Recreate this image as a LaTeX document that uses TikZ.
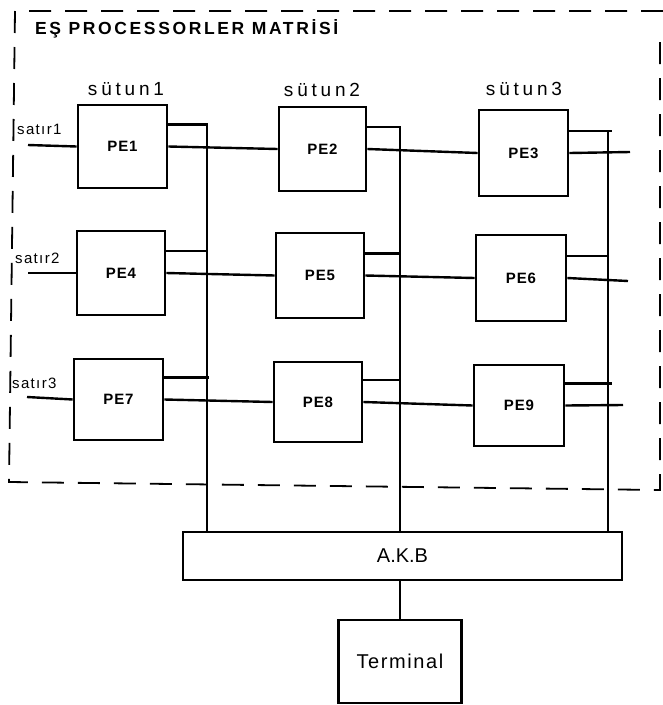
\documentclass[tikz,border=0pt]{standalone}
\usepackage{fontspec}
\setmainfont{Liberation Sans}
\usetikzlibrary{calc}
\begin{document}
\begin{tikzpicture}[x=1pt,y=-1pt,
  pebox/.style={draw,line width=2.6pt,inner sep=0pt,font=\fontsize{15}{15}\selectfont\bfseries\addfontfeatures{LetterSpace=6}},
  wire/.style={line width=2.4pt},
  lbl/.style={inner sep=0pt}]
\useasboundingbox (0,0) rectangle (663,705);
% dashed frame
\draw[line width=1.8pt,dash pattern=on 22pt off 14pt] (663,11) -- (15,11) -- (9,482) -- (660,490) -- (660,40);
\node[lbl,anchor=west,font=\fontsize{17.5}{17.5}\selectfont\bfseries\addfontfeatures{LetterSpace=15}] (title) at (35,29) {EŞ PROCESSORLER MATRİSİ};
% column labels
\node[lbl,font=\fontsize{19}{19}\selectfont\addfontfeatures{LetterSpace=20}] (s1) at (126,89) {sütun1};
\node[lbl,font=\fontsize{19}{19}\selectfont\addfontfeatures{LetterSpace=20}] (s2) at (322,90) {sütun2};
\node[lbl,font=\fontsize{19}{19}\selectfont\addfontfeatures{LetterSpace=20}] (s3) at (524,89) {sütun3};
% PE boxes
\node[pebox,minimum width=89pt,minimum height=83pt] (pe1) at (122.5,146.5) {PE1};
\node[pebox,minimum width=87pt,minimum height=84pt] (pe2) at (322.5,149) {PE2};
\node[pebox,minimum width=89pt,minimum height=86pt] (pe3) at (523.5,153) {PE3};
\node[pebox,minimum width=88pt,minimum height=84pt] (pe4) at (121,273) {PE4};
\node[pebox,minimum width=88pt,minimum height=85pt] (pe5) at (320,275.5) {PE5};
\node[pebox,minimum width=90pt,minimum height=86pt] (pe6) at (521,278) {PE6};
\node[pebox,minimum width=89pt,minimum height=81pt] (pe7) at (118.5,399.5) {PE7};
\node[pebox,minimum width=88pt,minimum height=80pt] (pe8) at (318,402) {PE8};
\node[pebox,minimum width=90pt,minimum height=81pt] (pe9) at (519,405.5) {PE9};
% AKB and terminal
\node[pebox,minimum width=439pt,minimum height=48pt,font=\fontsize{20}{20}\selectfont\addfontfeatures{LetterSpace=0}] (akb) at (402.5,556) {A.K.B};
\node[pebox,minimum width=123pt,minimum height=83pt,font=\fontsize{20}{20}\selectfont\addfontfeatures{LetterSpace=8}] (term) at (400,661.5) {Terminal};
% row labels and inputs
\node[lbl,anchor=west,font=\fontsize{15}{15}\selectfont\addfontfeatures{LetterSpace=9}] (r1) at (17,129) {satır1};
\node[lbl,anchor=west,font=\fontsize{15}{15}\selectfont\addfontfeatures{LetterSpace=9}] (r2) at (15,258) {satır2};
\node[lbl,anchor=west,font=\fontsize{15}{15}\selectfont\addfontfeatures{LetterSpace=9}] (r3) at (12,383) {satır3};
\coordinate (in1) at (28,145);
\coordinate (in2) at (28,273);
\coordinate (in3) at (27,397);
\draw[wire] (in1) -- (pe1.west);
\draw[wire] (in2) -- (pe4.west);
\draw[wire] (in3) -- (pe7.west);
% buses
\coordinate (bus1) at (207,123);
\coordinate (bus2) at (400,127);
\coordinate (bus3) at (608,130);
\draw[wire] (bus1) -- (bus1 |- akb.north);
\draw[wire] (bus2) -- (bus2 |- akb.north);
\draw[wire] (bus3) -- (bus3 |- akb.north);
% upper lines to buses
\foreach \p/\b/\o in {pe1/bus1/1,pe4/bus1/1,pe7/bus1/2,pe2/bus2/1,pe5/bus2/1,pe8/bus2/1,pe3/bus3/4,pe6/bus3/1,pe9/bus3/4}{
  \coordinate (u) at ($(\p.east)+(0,-22)$);
  \draw[wire] (u) -- ($(u -| \b)+(\o,0)$);
}
% through lines
\draw[wire] (pe1.east) -- (pe2.west);
\draw[wire] (pe2.east) -- (pe3.west);
\draw[wire] (pe4.east) -- (pe5.west);
\draw[wire] (pe5.east) -- (pe6.west);
\draw[wire] (pe7.east) -- (pe8.west);
\draw[wire] (pe8.east) -- (pe9.west);
\coordinate (o3) at (630,152);
\coordinate (o6) at (628,281);
\coordinate (o9) at (623,405);
\draw[wire] (pe3.east) -- (o3);
\draw[wire] (pe6.east) -- (o6);
\draw[wire] (pe9.east) -- (o9);
% AKB to terminal
\draw[wire] (akb.south -| term.north) -- (term.north);
\end{tikzpicture}
\end{document}
